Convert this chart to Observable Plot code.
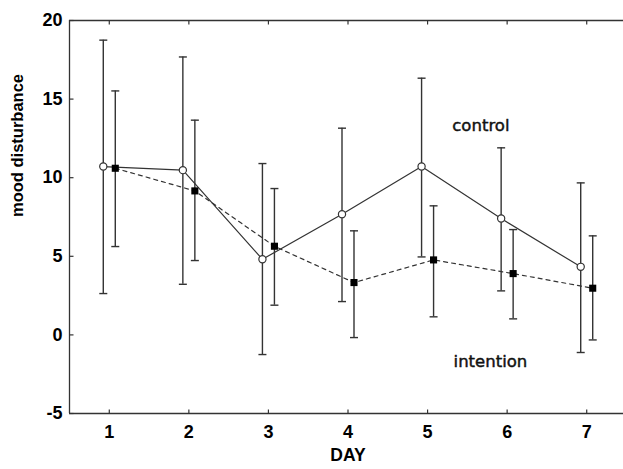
<!DOCTYPE html>
<html>
<head>
<meta charset="utf-8">
<script src="https://cdn.jsdelivr.net/npm/d3@7"></script>
<script src="https://cdn.jsdelivr.net/npm/@observablehq/plot@0.6"></script>
<style>
  body { margin: 0; overflow: hidden; background: white; }
</style>
</head>
<body>
<div id="chart"></div>
<script>
const days = [1, 2, 3, 4, 5, 6, 7];
const controlMean  = [10.71, 10.48, 4.81, 7.68, 10.71, 7.40, 4.33];
const controlUpper = [18.75, 17.68, 10.90, 13.15, 16.33, 11.90, 9.67];
const controlLower = [2.63, 3.22, -1.25, 2.12, 4.96, 2.80, -1.12];
const intentionMean  = [10.60, 9.16, 5.64, 3.33, 4.77, 3.90, 2.97];
const intentionUpper = [15.52, 13.66, 9.31, 6.62, 8.21, 6.70, 6.30];
const intentionLower = [5.62, 4.73, 1.89, -0.17, 1.15, 1.02, -0.32];
const yTicks = [-5, 0, 5, 10, 15, 20];
const seriesLabels = [
  {name: "control", day: 5.67, value: 13.3},
  {name: "intention", day: 5.79, value: -1.7}
];

const control = days.map((d, i) => ({day: d, mean: controlMean[i], lo: controlLower[i], hi: controlUpper[i]}));
const intention = days.map((d, i) => ({day: d, mean: intentionMean[i], lo: intentionLower[i], hi: intentionUpper[i]}));

// custom symbols
const cap = {draw(c, s) { const w = Math.sqrt(s / Math.PI); c.moveTo(-w, 0); c.lineTo(w, 0); }};
const tickUp = {draw(c, s) { const w = Math.sqrt(s / Math.PI); c.moveTo(0, 0); c.lineTo(0, -w); }};
const tickDown = {draw(c, s) { const w = Math.sqrt(s / Math.PI); c.moveTo(0, 0); c.lineTo(0, w); }};
const tickRight = {draw(c, s) { const w = Math.sqrt(s / Math.PI); c.moveTo(0, 0); c.lineTo(w, 0); }};

const ink = "#333";

const chart = Plot.plot({
  width: 623,
  height: 469,
  marginTop: 20,
  marginBottom: 56,
  marginLeft: 69,
  marginRight: -3,
  style: {fontFamily: "'Liberation Sans', Arial, sans-serif", color: "black", background: "white"},
  x: {domain: [0.5, 7.5]},
  y: {domain: [-5, 20]},
  marks: [
    Plot.ruleY([-5, 20], {stroke: ink, strokeWidth: 1.3}),
    Plot.ruleX([0.5], {stroke: ink, strokeWidth: 1.3}),
    Plot.axisX({anchor: "bottom", ticks: days, tickSize: 0, tickPadding: 12, tickFormat: d => String(d), fontSize: 18, fontWeight: "bold", label: null}),
    Plot.axisY({anchor: "left", ticks: yTicks, tickSize: 0, tickPadding: 7, tickFormat: d => String(d), fontSize: 18, fontWeight: "bold", label: null}),
    Plot.dot(days, {x: d => d, frameAnchor: "bottom", symbol: tickUp, r: 4, stroke: ink, strokeWidth: 1.2}),
    Plot.dot(days, {x: d => d, frameAnchor: "top", symbol: tickDown, r: 4, stroke: ink, strokeWidth: 1.2}),
    Plot.dot(yTicks, {y: d => d, frameAnchor: "left", symbol: tickRight, r: 4, stroke: ink, strokeWidth: 1.2}),
    // error bars
    Plot.ruleX(control, {x: "day", y1: "lo", y2: "hi", dx: -6, stroke: ink, strokeWidth: 1.4}),
    Plot.dot(control, {x: "day", y: "hi", dx: -6, symbol: cap, r: 4, stroke: ink, strokeWidth: 1.4, fill: "none"}),
    Plot.dot(control, {x: "day", y: "lo", dx: -6, symbol: cap, r: 4, stroke: ink, strokeWidth: 1.4, fill: "none"}),
    Plot.ruleX(intention, {x: "day", y1: "lo", y2: "hi", dx: 6, stroke: ink, strokeWidth: 1.4}),
    Plot.dot(intention, {x: "day", y: "hi", dx: 6, symbol: cap, r: 4, stroke: ink, strokeWidth: 1.4, fill: "none"}),
    Plot.dot(intention, {x: "day", y: "lo", dx: 6, symbol: cap, r: 4, stroke: ink, strokeWidth: 1.4, fill: "none"}),
    // lines
    Plot.line(control, {x: "day", y: "mean", dx: -6, stroke: ink, strokeWidth: 1.2}),
    Plot.line(intention, {x: "day", y: "mean", dx: 6, stroke: ink, strokeWidth: 1.2, strokeDasharray: "4,4"}),
    // markers
    Plot.dot(control, {x: "day", y: "mean", dx: -6, r: 3.6, fill: "white", stroke: ink, strokeWidth: 1.2}),
    Plot.dot(intention, {x: "day", y: "mean", dx: 6, symbol: "square", r: 4, fill: "black", stroke: "none"}),
    // series labels
    Plot.text(seriesLabels, {x: "day", y: "value", text: "name", fontSize: 16.5, fontFamily: "'DejaVu Sans', sans-serif", fill: "#111", stroke: "#111", strokeWidth: 0.45}),
    // axis titles
    Plot.text(["mood disturbance"], {frameAnchor: "left", dx: -52, rotate: -90, fontSize: 16.5, fontWeight: "bold"}),
    Plot.text(["DAY"], {frameAnchor: "bottom", dy: 47, fontSize: 17.5, fontWeight: "bold"})
  ]
});

document.getElementById("chart").appendChild(chart);
</script>
</body>
</html>
